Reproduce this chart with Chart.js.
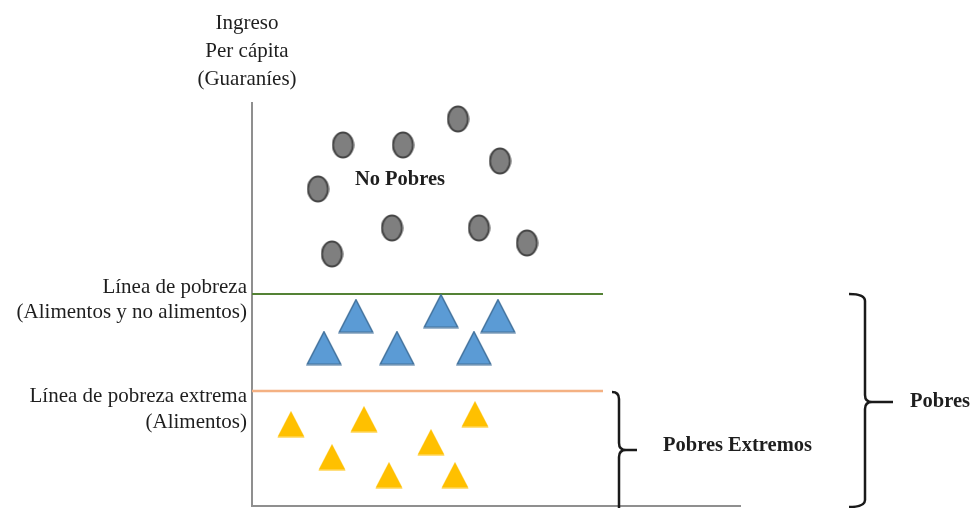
<!DOCTYPE html>
<html><head><meta charset="utf-8">
<script src="https://cdn.jsdelivr.net/npm/chart.js@4.4.0/dist/chart.umd.min.js"></script>
<style>html,body{margin:0;padding:0;background:#fff;overflow:hidden}#wrap{width:970px;height:508px;position:relative}</style>
</head><body><div id="wrap"><canvas id="c"></canvas></div>
<script>
// Schematic data (arbitrary income units, x = spread, y = income per capita)
const noPobresX = [91, 151, 206, 248, 66, 140, 227, 275, 80];
const noPobresY = [361, 361, 387, 345, 317, 278, 278, 263, 252];
const pobresX = [104, 189, 246, 72, 145, 222];
const pobresY = [190, 195, 190, 158, 158, 158];
const extremosX = [39, 112, 223, 80, 179, 137, 203];
const extremosY = [82, 87, 92, 49, 64, 31, 31];
const lineaPobreza = 212;
const lineaExtrema = 115;
const lineaLargo = 351;
const xMax = 488;
const yMax = 403;
const yTitle = ['Ingreso', 'Per cápita', '(Guaraníes)'];
const lblPobreza = ['Línea de pobreza', '(Alimentos y no alimentos)'];
const lblExtrema = ['Línea de pobreza extrema', '(Alimentos)'];
const lblNoPobres = 'No Pobres';
const lblExtremos = 'Pobres Extremos';
const lblPobres = 'Pobres';

function toPts(xs, ys){ return xs.map((x,i)=>({x:x, y:ys[i]})); }

function makeTriangle(w, h, fill, stroke, lw){
  const c = document.createElement('canvas');
  c.width = w; c.height = h;
  const g = c.getContext('2d');
  const p = lw/2 + 0.5;
  g.beginPath();
  g.moveTo(w/2, p);
  g.lineTo(w - p, h - p);
  g.lineTo(p, h - p);
  g.closePath();
  g.fillStyle = fill; g.fill();
  if (lw > 0){ g.lineWidth = lw; g.strokeStyle = stroke; g.lineJoin='miter'; g.stroke(); }
  return c;
}
function makeEllipse(w, h, fill, stroke, lw){
  const c = document.createElement('canvas');
  c.width = w; c.height = h;
  const g = c.getContext('2d');
  g.beginPath();
  g.ellipse(w/2, h/2, w/2 - lw/2 - 0.5, h/2 - lw/2 - 0.5, 0, 0, Math.PI*2);
  g.fillStyle = fill; g.fill();
  g.lineWidth = lw; g.strokeStyle = stroke; g.stroke();
  return c;
}

const imgCircle = makeEllipse(23, 28, '#7f7f7f', '#454545', 2);
const imgBlue = makeTriangle(36, 35, '#5b9bd5', '#41719c', 1.5);
const imgYellow = makeTriangle(28, 27, '#ffc000', '#ffc000', 0);

const serif = "'Liberation Serif', 'Times New Roman', serif";

const annot = {
  id: 'annot',
  afterDatasetsDraw(chart){
    const ctx = chart.ctx;
    const xs = chart.scales.x, ys = chart.scales.y;
    const X = v => xs.getPixelForValue(v);
    const Y = v => ys.getPixelForValue(v);
    ctx.save();
    ctx.fillStyle = '#1e1e1e';
    ctx.textBaseline = 'middle';
    // Y axis title
    ctx.font = '21px ' + serif;
    ctx.textAlign = 'center';
    const ax = X(0) - 5;
    [23, 51, 79].forEach((py, i) => ctx.fillText(yTitle[i], ax, py));
    // line labels
    ctx.textAlign = 'right';
    ctx.fillText(lblPobreza[0], X(0) - 5, Y(lineaPobreza) - 7);
    ctx.fillText(lblPobreza[1], X(0) - 5, Y(lineaPobreza) + 18);
    ctx.fillText(lblExtrema[0], X(0) - 5, Y(lineaExtrema) + 5);
    ctx.fillText(lblExtrema[1], X(0) - 5, Y(lineaExtrema) + 31);
    // bold labels
    ctx.font = 'bold 20.5px ' + serif;
    ctx.textAlign = 'center';
    ctx.fillText(lblNoPobres, X(148), Y(326));
    ctx.textAlign = 'left';
    ctx.fillText(lblExtremos, X(411), Y(60));
    ctx.fillText(lblPobres, X(658), Y(104));

    // braces
    ctx.strokeStyle = '#1a1a1a';
    ctx.lineWidth = 2.5;
    ctx.lineCap = 'butt';
    function brace(bx, top, bottom, mid, hook, prong, bottomHook){
      const r = 7;
      ctx.beginPath();
      ctx.moveTo(hook, top);
      ctx.quadraticCurveTo(bx, top, bx, top + r);
      ctx.lineTo(bx, mid - r);
      ctx.quadraticCurveTo(bx, mid, bx + r, mid);
      ctx.lineTo(prong, mid);
      ctx.moveTo(bx + r, mid);
      ctx.quadraticCurveTo(bx, mid, bx, mid + r);
      if (bottomHook){
        ctx.lineTo(bx, bottom - r);
        ctx.quadraticCurveTo(bx, bottom, hook, bottom);
      } else {
        ctx.lineTo(bx, bottom);
      }
      ctx.stroke();
    }
    brace(X(367), Y(lineaExtrema) + 1, Y(-3), Y(56), X(360), X(385), false);
    brace(X(613), Y(lineaPobreza), Y(0) + 1, Y(104), X(597), X(641), true);
    ctx.restore();
  }
};

new Chart(document.getElementById('c'), {
  type: 'scatter',
  data: {
    datasets: [
      { type:'line', data:[{x:0,y:lineaPobreza},{x:lineaLargo,y:lineaPobreza}], borderColor:'#548235', borderWidth:2, pointRadius:0, order:5 },
      { type:'line', data:[{x:0,y:lineaExtrema},{x:lineaLargo,y:lineaExtrema}], borderColor:'#f4b183', borderWidth:2.5, pointRadius:0, order:5 },
      { label:'No Pobres', data: toPts(noPobresX, noPobresY), pointStyle: imgCircle, order:1 },
      { label:'Pobres', data: toPts(pobresX, pobresY), pointStyle: imgBlue, order:1 },
      { label:'Pobres Extremos', data: toPts(extremosX, extremosY), pointStyle: imgYellow, order:1 }
    ]
  },
  options: {
    responsive: true,
    maintainAspectRatio: false,
    animation: false,
    devicePixelRatio: 1,
    layout: { autoPadding: false, padding: { left: 252, right: 230, top: 103, bottom: 2 } },
    plugins: { legend: { display:false }, tooltip: { enabled:false } },
    scales: {
      x: { type:'linear', min:0, max:xMax, grid:{display:false}, ticks:{display:false}, border:{display:true, color:'#8f8f8f', width:2},
           afterFit(s){ s.height = 0; } },
      y: { type:'linear', min:0, max:yMax, grid:{display:false}, ticks:{display:false}, border:{display:true, color:'#8f8f8f', width:2},
           afterFit(s){ s.width = 0; } }
    }
  },
  plugins: [annot]
});
</script>
</body></html>
